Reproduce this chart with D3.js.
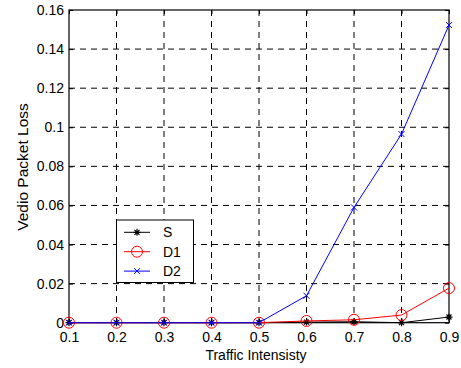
<!DOCTYPE html>
<html><head><meta charset="utf-8">
<script src="https://cdn.jsdelivr.net/npm/d3@7"></script>
<style>body{margin:0;background:#fff}svg{display:block}text{font-family:"Liberation Sans",Arial,sans-serif}</style>
</head><body><svg id="c" width="461" height="368"></svg>
<script>
const traffic = [0.1,0.2,0.3,0.4,0.5,0.6,0.7,0.8,0.9];
const seriesS  = [0,0,0,0,0,0.0003,0.0005,0,0.0029];
const seriesD1 = [0,0,0,0,0,0.0009,0.0015,0.0039,0.0177];
const seriesD2 = [0,0,0,0,0,0.0138,0.059,0.0965,0.1523];
const seriesNames = ["S","D1","D2"];
const xTicks = [0.1,0.2,0.3,0.4,0.5,0.6,0.7,0.8,0.9];
const yTicks = [0,0.02,0.04,0.06,0.08,0.1,0.12,0.14,0.16];
const xLabel = "Traffic Intensisty";
const yLabel = "Vedio Packet Loss";

const svg = d3.select("#c");
const L=69, R=449, T=10, B=322.7;
const x = d3.scaleLinear().domain([0.1,0.9]).range([L,R]);
const y = d3.scaleLinear().domain([0,0.16]).range([B,T]);
const fmt = d => d===0 ? "0" : String(+d.toFixed(2));

// grid
const g = svg.append("g");
g.selectAll("line.gx").data(xTicks.slice(1,-1)).join("line")
  .attr("x1",d=>x(d)).attr("x2",d=>x(d)).attr("y1",T).attr("y2",B)
  .attr("stroke","#000").attr("stroke-width",1).attr("stroke-dasharray","6,5");
g.selectAll("line.gy").data(yTicks.slice(1,-1)).join("line")
  .attr("y1",d=>y(d)).attr("y2",d=>y(d)).attr("x1",L).attr("x2",R)
  .attr("stroke","#000").attr("stroke-width",1).attr("stroke-dasharray","6,5");

// axes with inward ticks
const axB = d3.axisBottom(x).tickValues(xTicks).tickSize(-4).tickPadding(9).tickFormat(fmt);
const axL = d3.axisLeft(y).tickValues(yTicks).tickSize(-4).tickPadding(5).tickFormat(fmt);
const axT = d3.axisTop(x).tickValues(xTicks).tickSize(-4).tickFormat("");
const axR = d3.axisRight(y).tickValues(yTicks).tickSize(-4).tickFormat("");
function style(sel){
  sel.select(".domain").remove();
  sel.selectAll("line").attr("stroke","#000");
  sel.selectAll("text").attr("fill","#000").style("font-size","14px").style("font-family",'"Liberation Sans",Arial,sans-serif');
}
svg.append("g").attr("transform",`translate(0,${B})`).call(axB).call(style);
svg.append("g").attr("transform",`translate(${L},0)`).call(axL).call(style);
svg.append("g").attr("transform",`translate(0,${T})`).call(axT).call(style);
svg.append("g").attr("transform",`translate(${R},0)`).call(axR).call(style);
svg.append("rect").attr("x",L).attr("y",T).attr("width",R-L).attr("height",B-T)
  .attr("fill","none").attr("stroke","#000").attr("stroke-width",1.2);

// series
const series = [
  {name:seriesNames[0], vals:seriesS, color:"#000", marker:"star"},
  {name:seriesNames[1], vals:seriesD1, color:"#ff0000", marker:"circle"},
  {name:seriesNames[2], vals:seriesD2, color:"#0000ff", marker:"x"}
];
const line = d3.line().x((d,i)=>x(traffic[i])).y(d=>y(d));
function drawMarker(sel, m, color, cx, cy){
  if(m==="circle"){
    sel.append("circle").attr("cx",cx).attr("cy",cy).attr("r",5.5).attr("fill","none").attr("stroke",color).attr("stroke-width",1);
  } else if(m==="x"){
    const s=3;
    sel.append("path").attr("d",`M${cx-s},${cy-s}L${cx+s},${cy+s}M${cx-s},${cy+s}L${cx+s},${cy-s}`).attr("stroke",color).attr("stroke-width",1);
  } else {
    const s=3.5, d=2.5;
    sel.append("path").attr("d",`M${cx-s},${cy}L${cx+s},${cy}M${cx},${cy-s}L${cx},${cy+s}M${cx-d},${cy-d}L${cx+d},${cy+d}M${cx-d},${cy+d}L${cx+d},${cy-d}`).attr("stroke",color).attr("stroke-width",1.2);
  }
}
series.forEach(s=>{
  const sg = svg.append("g");
  sg.append("path").datum(s.vals).attr("d",line).attr("fill","none").attr("stroke",s.color).attr("stroke-width",1);
  s.vals.forEach((v,i)=>drawMarker(sg,s.marker,s.color,x(traffic[i]),y(v)));
});

// legend
const lg = svg.append("g");
lg.append("rect").attr("x",116.5).attr("y",220).attr("width",77).attr("height",62.5)
  .attr("fill","#fff").attr("stroke","#000").attr("stroke-width",1);
series.forEach((s,i)=>{
  const yy = 232.3 + i*19.4;
  lg.append("line").attr("x1",124).attr("x2",150).attr("y1",yy).attr("y2",yy).attr("stroke",s.color).attr("stroke-width",1);
  drawMarker(lg,s.marker,s.color,137,yy);
  lg.append("text").attr("x",163).attr("y",yy+5).text(s.name).style("font-size","14px");
});

// axis labels
svg.append("text").attr("x",256).attr("y",360).attr("text-anchor","middle").style("font-size","14px").text(xLabel);
svg.append("text").attr("transform",`translate(28,167) rotate(-90)`).attr("text-anchor","middle").style("font-size","15.5px").text(yLabel);
</script></body></html>
